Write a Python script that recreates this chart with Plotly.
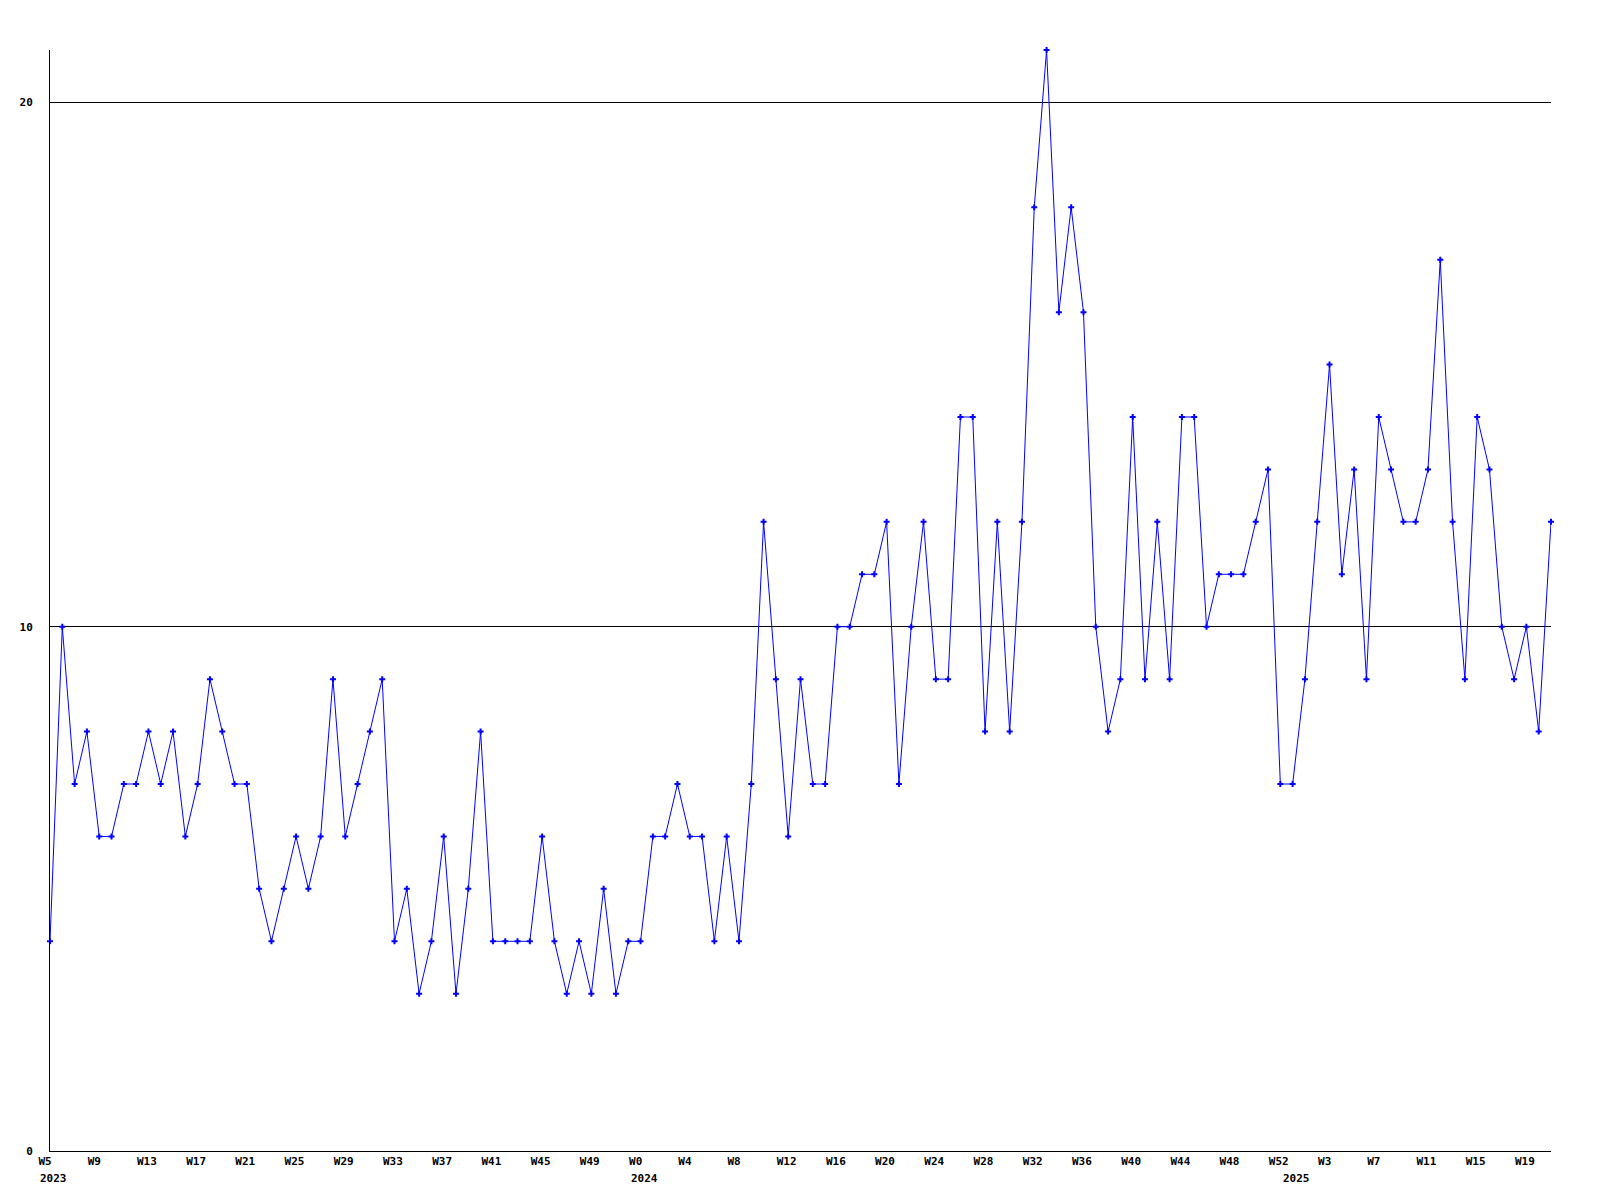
import plotly.graph_objects as go

# Week categories (year, week) in order
weeks_2023 = [5, 6, 7, 8, 9, 10, 11, 12, 13, 14, 15, 16, 17, 18, 19, 20, 21, 22, 23, 24,
              25, 26, 27, 28, 29, 30, 31, 32, 33, 34, 35, 36, 37, 38, 39, 40, 41, 42, 43, 44,
              45, 46, 47, 48, 49, 50, 51, 52]
weeks_2024 = [0, 1, 2, 3, 4, 5, 6, 7, 8, 9, 10, 11, 12, 13, 14, 15, 16, 17, 18, 19,
              20, 21, 22, 23, 24, 25, 26, 27, 28, 29, 30, 31, 32, 33, 34, 35, 36, 37, 38, 39,
              40, 41, 42, 43, 44, 45, 46, 47, 48, 49, 50, 51, 52]
weeks_2025 = [0, 1, 2, 3, 4, 5, 6, 7, 8, 9, 10, 11, 12, 13, 14, 15, 16, 17, 18, 19,
              20, 21]

values = [4, 10, 7, 8, 6, 6, 7, 7, 8, 7, 8, 6, 7, 9, 8, 7, 7, 5, 4, 5,
          6, 5, 6, 9, 6, 7, 8, 9, 4, 5, 3, 4, 6, 3, 5, 8, 4, 4, 4, 4,
          6, 4, 3, 4, 3, 5, 3, 4, 4, 6, 6, 7, 6, 6, 4, 6, 4, 7, 12, 9,
          6, 9, 7, 7, 10, 10, 11, 11, 12, 7, 10, 12, 9, 9, 14, 14, 8, 12, 8, 12,
          18, 21, 16, 18, 16, 10, 8, 9, 14, 9, 12, 9, 14, 14, 10, 11, 11, 11, 12, 13,
          7, 7, 9, 12, 15, 11, 13, 9, 14, 13, 12, 12, 13, 17, 12, 9, 14, 13, 10, 9,
          10, 8, 12]

y_ticks = [0, 10, 20]

categories = ([f"2023-W{w}" for w in weeks_2023] +
              [f"2024-W{w}" for w in weeks_2024] +
              [f"2025-W{w}" for w in weeks_2025])
week_text = ([f"W{w}" for w in weeks_2023] +
             [f"W{w}" for w in weeks_2024] +
             [f"W{w}" for w in weeks_2025])

tick_vals = categories[::4]
tick_text = week_text[::4]

year_starts = [("2023", "2023-W5"), ("2024", "2024-W0"), ("2025", "2025-W0")]

FONT = dict(family="DejaVu Sans Mono", size=11, color="black", weight="bold")

fig = go.Figure()
fig.add_trace(go.Scatter(
    x=categories, y=values, mode="lines+markers",
    line=dict(color="#0000ff", width=1),
    marker=dict(symbol="cross", size=5, color="#0000ff"),
    cliponaxis=False,
))

for label, cat in year_starts:
    fig.add_annotation(x=cat, xref="x", y=0, yref="paper", text=label,
                       showarrow=False, xanchor="left", yanchor="middle",
                       xshift=-12, yshift=-27, font=FONT)

# page body has an 8px margin; size and margins compensate for it
fig.update_layout(
    width=1592, height=1192,
    margin=dict(l=42, r=49, t=42, b=49),
    plot_bgcolor="white", paper_bgcolor="white",
    showlegend=False,
)
fig.update_xaxes(
    type="category", range=[0, len(categories) - 1],
    showgrid=False, zeroline=False,
    showline=True, linecolor="black", linewidth=1,
    tickmode="array", tickvals=tick_vals, ticktext=tick_text,
    tickangle=0, ticks="",
    ticklabelposition="outside right", ticklabelshift=-12,
    tickfont=FONT,
)
fig.update_yaxes(
    range=[0, 21], tickmode="array", tickvals=y_ticks,
    showgrid=True, gridcolor="black", gridwidth=1,
    zeroline=False, showline=True, linecolor="black", linewidth=1,
    ticks="", ticklabelstandoff=14, tickfont=FONT,
)

fig.write_html("out.html")
